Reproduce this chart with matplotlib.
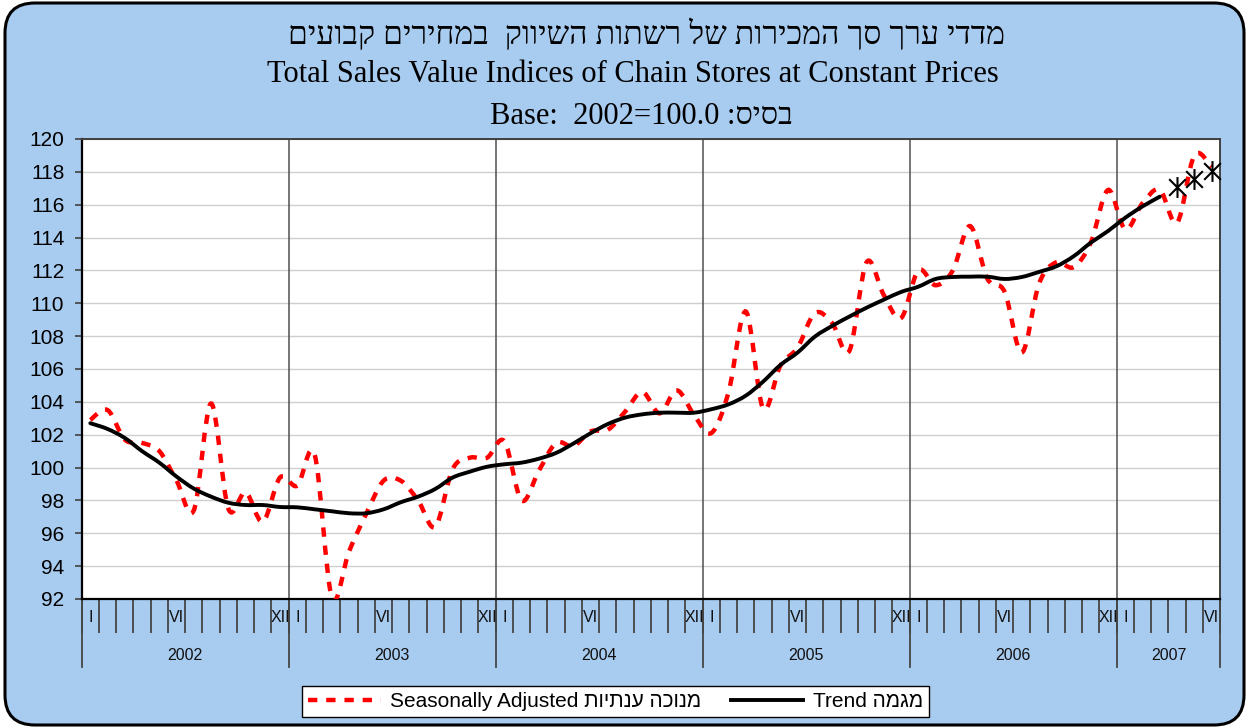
import numpy as np
import matplotlib
matplotlib.use("Agg")
import matplotlib.pyplot as plt
from matplotlib.path import Path
from matplotlib.patches import PathPatch, FancyBboxPatch
from matplotlib.lines import Line2D
import matplotlib.transforms as mtransforms

# ---------------- data ----------------
years = ["2002", "2003", "2004", "2005", "2006", "2007"]
months_per_year = [12, 12, 12, 12, 12, 6]
month_labels = {0: "I", 5: "VI", 11: "XII"}

seasonally_adjusted = [
    102.9, 103.5, 101.7, 101.5, 101.0, 99.2, 97.4, 103.9, 97.5, 98.5, 96.7, 99.4,
    98.9, 100.8, 92.1, 94.9, 97.2, 99.2, 99.2, 98.0, 96.4, 99.9, 100.6, 100.6,
    101.6, 98.0, 99.8, 101.5, 101.3, 102.2, 102.3, 103.4, 104.6, 103.3, 104.7, 103.2,
    102.1, 104.6, 109.5, 103.6, 106.2, 107.3, 109.4, 108.8, 107.1, 112.5, 110.5, 109.1,
    112.0, 111.1, 112.0, 114.7, 111.5, 110.7, 107.0, 111.2, 112.5, 112.2, 113.7, 116.9,
    114.5, 116.1, 116.9, 114.9, 119.0, 118.3,
]

trend = [
    102.70, 102.35, 101.80, 101.00, 100.30, 99.45, 98.72, 98.23, 97.86, 97.72, 97.72, 97.60,
    97.58, 97.46, 97.34, 97.22, 97.22, 97.46, 97.89, 98.23, 98.70, 99.39, 99.75, 100.05,
    100.20, 100.30, 100.54, 100.89, 101.46, 102.09, 102.65, 103.04, 103.24, 103.34, 103.34, 103.34,
    103.55, 103.85, 104.38, 105.23, 106.24, 107.00, 107.97, 108.62, 109.19, 109.73, 110.22, 110.69,
    111.01, 111.48, 111.60, 111.62, 111.62, 111.48, 111.60, 111.91, 112.25, 112.86, 113.69, 114.40,
    115.21, 115.90, 116.49,
]
trend_forecast = [117.06, 117.55, 118.07]

y_ticks = list(range(92, 121, 2))

title_he = "מדדי ערך סך המכירות של רשתות השיווק  במחירים קבועים"
title_en = "Total Sales Value Indices of Chain Stores at Constant Prices"
base_he = "בסיס"
legend_sa_he = "מנוכה ענתיות"
legend_tr_he = "מגמה"

# ---------------- helpers ----------------
def vis(s):
    # visual (left-to-right) order for right-to-left text
    return s[::-1]

def smooth_path(xs, ys):
    pts = list(zip(xs, ys))
    n = len(pts)
    verts = [pts[0]]
    codes = [Path.MOVETO]
    for i in range(n - 1):
        p0 = pts[i - 1] if i > 0 else pts[i]
        p1 = pts[i]
        p2 = pts[i + 1]
        p3 = pts[i + 2] if i + 2 < n else pts[i + 1]
        c1 = (p1[0] + (p2[0] - p0[0]) / 6.0, p1[1] + (p2[1] - p0[1]) / 6.0)
        c2 = (p2[0] - (p3[0] - p1[0]) / 6.0, p2[1] - (p3[1] - p1[1]) / 6.0)
        verts += [c1, c2, p2]
        codes += [Path.CURVE4] * 3
    return Path(verts, codes)

W, H = 1249, 728
fig = plt.figure(figsize=(W / 100, H / 100), dpi=100)
fig.patch.set_facecolor("white")

BLUE = "#A8CBF0"
bg = FancyBboxPatch((5, 3), W - 10, H - 6,
                    boxstyle="round,pad=0,rounding_size=30",
                    transform=None, facecolor=BLUE, edgecolor="black",
                    linewidth=2.2, zorder=-10)
fig.patches.append(bg)

px_l, px_r, px_t, px_b = 81.7, 1220.2, 139.0, 599.0
ax = fig.add_axes([px_l / W, 1 - px_b / H, (px_r - px_l) / W, (px_b - px_t) / H])
ax.set_zorder(1)
ax.set_facecolor("white")

n_months = len(seasonally_adjusted)
x_all = np.arange(n_months)

ax.set_xlim(-0.5, n_months - 0.5)
ax.set_ylim(92, 120)

# gridlines
ax.set_yticks(y_ticks)
ax.yaxis.grid(True, color="#CFCFCF", linewidth=1.0)
ax.set_axisbelow(True)
ax.tick_params(axis="y", direction="out", length=5, width=1.2, color="#404040",
               labelsize=15, pad=7.5)
for lab in ax.get_yticklabels():
    lab.set_fontfamily(["Liberation Sans", "DejaVu Sans"])

# month ticks below
ax.set_xticks(np.arange(-0.5, n_months, 1.0))
ax.set_xticklabels([])
ax.tick_params(axis="x", direction="out", length=24.5, width=1.3, color="#454545")

for sp in ["left", "bottom"]:
    ax.spines[sp].set_color("black")
    ax.spines[sp].set_linewidth(1.6)
for sp in ["top", "right"]:
    ax.spines[sp].set_color("#404040")
    ax.spines[sp].set_linewidth(1.4)

# year boundaries
trans = mtransforms.blended_transform_factory(ax.transData, ax.transAxes)
start = 0
bounds = [-0.5]
for nm in months_per_year:
    start += nm
    bounds.append(start - 0.5)
for b in bounds[1:-1]:
    ax.axvline(b, color="#505050", linewidth=1.1, zorder=1)
ext = -(667 - px_b) / (px_b - px_t)
for b in bounds:
    ax.plot([b, b], [0, ext], transform=trans, clip_on=False,
            color="#454545", linewidth=1.3, zorder=1)

# month labels & year labels
ym = -(617 - px_b) / (px_b - px_t)
yy = -(655 - px_b) / (px_b - px_t)
start = 0
for yr, nm in zip(years, months_per_year):
    for k, lab in month_labels.items():
        if k < nm:
            ax.text(start + k, ym, lab, transform=trans, ha="center", va="center",
                    fontsize=11.5, family=["Liberation Sans", "DejaVu Sans"], color="#111111")
    ax.text(start + (nm - 1) / 2.0, yy, yr, transform=trans, ha="center", va="center",
            fontsize=11.5, family=["Liberation Sans", "DejaVu Sans"], color="#111111")
    start += nm

# series
sa_path = smooth_path(x_all, seasonally_adjusted)
sa_patch = PathPatch(sa_path, transform=ax.transData, fill=False, edgecolor="#FF0000",
                     linewidth=3.2, linestyle=(0, (2.1, 2.0)), capstyle="butt", zorder=3)
ax.add_patch(sa_patch)

x_tr = np.arange(len(trend))
tr_path = smooth_path(x_tr, trend)
tr_patch = PathPatch(tr_path, transform=ax.transData, fill=False, edgecolor="black",
                     linewidth=2.8, capstyle="round", joinstyle="round", zorder=4)
ax.add_patch(tr_patch)

ast = Path([(-1, -1), (1, 1), (-1, 1), (1, -1), (0, -1.25), (0, 1.25)],
           [Path.MOVETO, Path.LINETO, Path.MOVETO, Path.LINETO, Path.MOVETO, Path.LINETO])
x_fc = np.arange(len(trend), len(trend) + len(trend_forecast))
ax.plot(x_fc, trend_forecast, linestyle="none", marker=ast, markersize=15,
        markeredgewidth=1.5, markeredgecolor="black", color="black", zorder=5,
        clip_on=False)

# titles
serif = ["Liberation Serif", "DejaVu Serif", "DejaVu Sans"]
fig.text(647 / W, 1 - 35 / H, vis(title_he), ha="center", va="center", fontsize=23,
         family=serif)
fig.text(633 / W, 1 - 75 / H, title_en, ha="center", va="center", fontsize=22,
         family=serif)
fig.text(641 / W, 1 - 117 / H, "Base:  2002=100.0 :" + vis(base_he), ha="center", va="center",
         fontsize=22, family=serif)

# legend
h_sa = Line2D([], [], color="#FF0000", linewidth=3.2, linestyle=(0, (2.1, 2.0)),
              solid_capstyle="butt", dash_capstyle="butt")
h_tr = Line2D([], [], color="black", linewidth=2.8)
leg = fig.legend([h_sa, h_tr],
                 ["Seasonally Adjusted " + vis(legend_sa_he), "Trend " + vis(legend_tr_he)],
                 loc="center", bbox_to_anchor=(615.5 / W, 1 - 701.5 / H), ncol=2,
                 frameon=True, fancybox=False, framealpha=1, edgecolor="black",
                 handlelength=3.5, handletextpad=0.45, columnspacing=1.4,
                 borderpad=0.3, borderaxespad=0,
                 prop={"family": ["Liberation Sans", "DejaVu Sans"], "size": 15})
leg.get_frame().set_linewidth(1.0)

fig.savefig("out.png", dpi=100, facecolor=fig.get_facecolor())
